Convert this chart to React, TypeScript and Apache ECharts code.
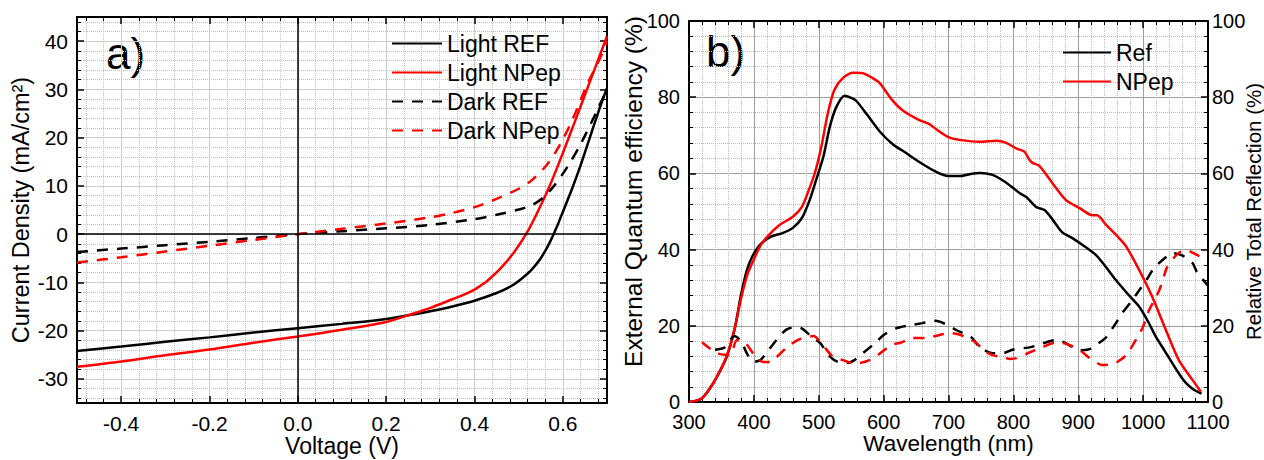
import React, { useEffect, useRef } from "react";
import * as echarts from "echarts";

// ---------- Panel a) J–V curves ----------
const lightRefV = [-0.5, -0.4, -0.3, -0.2, -0.1, 0, 0.1, 0.2, 0.3, 0.35, 0.4, 0.45, 0.47, 0.49, 0.51, 0.53, 0.55, 0.57, 0.585, 0.6, 0.62, 0.64, 0.66, 0.68, 0.7];
const lightRefJ = [-24.2, -23.3, -22.3, -21.4, -20.4, -19.5, -18.6, -17.6, -16.0, -15.0, -13.8, -12.2, -11.4, -10.4, -9.0, -7.3, -5.0, -1.8, 1.2, 4.6, 9.2, 14.2, 19.7, 25.2, 30.3];

const lightNPepV = [-0.5, -0.4, -0.3, -0.2, -0.1, 0, 0.1, 0.2, 0.26, 0.3, 0.35, 0.375, 0.4, 0.415, 0.43, 0.46, 0.49, 0.52, 0.545, 0.572, 0.6, 0.63, 0.66, 0.7];
const lightNPepJ = [-27.5, -26.4, -25.1, -23.9, -22.5, -21.2, -19.8, -18.2, -16.5, -15.3, -13.5, -12.6, -11.5, -10.6, -9.6, -7.0, -3.7, 0.5, 5.0, 10.4, 16.8, 24.0, 31.3, 41.0];

const darkRefV = [-0.5, -0.4, -0.3, -0.2, -0.1, 0, 0.1, 0.2, 0.3, 0.4, 0.45, 0.5, 0.53, 0.557, 0.58, 0.61, 0.64, 0.678, 0.7];
const darkRefJ = [-3.7, -3.0, -2.3, -1.6, -0.8, 0, 0.6, 1.2, 1.9, 3.1, 4.0, 5.1, 6.0, 7.7, 10.0, 13.9, 18.6, 25.7, 30.0];

const darkNPepV = [-0.5, -0.4, -0.3, -0.2, -0.1, 0, 0.1, 0.2, 0.3, 0.35, 0.4, 0.45, 0.5, 0.53, 0.565, 0.594, 0.624, 0.655, 0.685, 0.7];
const darkNPepJ = [-5.9, -4.8, -3.6, -2.4, -1.2, 0, 1.1, 2.2, 3.5, 4.4, 5.6, 7.3, 9.4, 11.2, 14.5, 18.6, 24.2, 31.0, 36.6, 40.0];

// ---------- Panel b) EQE and reflection ----------
const eqeRefNm = [300, 310, 320, 330, 343, 358, 371, 380, 389, 397, 409, 425, 445, 460, 474, 486, 496, 507, 517, 527, 540, 550, 558, 575, 594, 615, 629, 655, 681, 700, 717, 733, 748, 768, 785, 798, 810, 820, 835, 848, 860, 875, 891, 910, 927, 940, 958, 975, 994, 1008, 1020, 1033, 1045, 1055, 1066, 1076, 1090];
const eqeRefVal = [0, 0.3, 1, 3, 6.6, 11.8, 19.7, 28, 34.5, 38, 41.2, 43.3, 44.4, 45.7, 48.3, 53, 58.3, 64.3, 72.2, 77.4, 80.4, 79.8, 79, 75.3, 71, 67.5, 66, 63, 60.4, 59.3, 59.3, 59.8, 60.1, 59.6, 58, 56.4, 54.8, 53.8, 51.2, 50.4, 48, 44.6, 43, 40.8, 38.6, 36, 32, 28.6, 25, 21, 17, 13.5, 10.2, 7.5, 5, 3.5, 2.2];

const eqeNPepNm = [300, 310, 320, 330, 343, 358, 370, 380, 390, 401, 410, 420, 440, 460, 474, 483, 494, 504, 514, 524, 537, 552, 568, 583, 594, 612, 629, 655, 670, 681, 700, 717, 748, 774, 789, 805, 817, 825, 830, 840, 860, 881, 902, 922, 929, 943, 963, 974, 994, 1014, 1035, 1055, 1076, 1089];
const eqeNPepVal = [0, 0.3, 1, 3, 6.6, 12, 19, 27, 33.5, 37.8, 41, 43.3, 46.5, 48.6, 51.2, 54.9, 60.1, 67, 75.8, 81.9, 85, 86.4, 86.3, 85, 83.7, 79.5, 76.6, 74, 73, 71.6, 69.5, 68.8, 68.3, 68.6, 68, 66.5, 65.7, 63.5, 62.7, 62, 57.5, 53, 50.9, 49, 49, 46.5, 43, 40.8, 34.6, 27.6, 18.9, 11, 5.8, 2.7];

const reflRefNm = [340, 355, 370, 380, 390, 400, 410, 420, 435, 450, 465, 475, 490, 502, 517, 530, 545, 555, 568, 587, 600, 620, 635, 660, 680, 695, 712, 735, 748, 768, 783, 800, 827, 851, 866, 880, 891, 906, 920, 932, 943, 958, 968, 981, 991, 1005, 1017, 1035, 1045, 1060, 1076, 1083, 1100];
const reflRefVal = [13.7, 14.3, 17.3, 16, 12.5, 10.5, 11, 13, 16.3, 19, 19.7, 19.2, 17, 15.5, 12, 10.5, 10.3, 11, 12.8, 15.5, 17.6, 19.4, 20, 20.7, 21.3, 20.5, 18.9, 17, 14.4, 12.8, 12.8, 13.8, 14.4, 15.7, 16.3, 15.5, 14.4, 13.6, 14, 15.5, 17, 20.7, 23.4, 26.2, 28.6, 32, 35.2, 38, 39.1, 38.5, 36.5, 34.1, 30.5];

const reflNPepNm = [320, 343, 363, 374, 386, 400, 414, 425, 435, 450, 468, 481, 492, 506, 522, 537, 553, 565, 578, 591, 612, 625, 645, 666, 686, 701, 715, 727, 743, 755, 768, 783, 795, 805, 822, 845, 863, 875, 886, 902, 922, 937, 948, 960, 974, 986, 999, 1009, 1025, 1037, 1048, 1058, 1066, 1083, 1090];
const reflNPepVal = [15.7, 12.8, 12.3, 16.3, 15.7, 12.5, 10.5, 10.5, 11.8, 14.2, 16.3, 17, 17.3, 15, 11.8, 11, 10.2, 10.3, 11, 12.3, 15, 15.5, 16.8, 16.8, 17.6, 18.1, 17.8, 17, 15.5, 13.5, 12.3, 11.8, 11.3, 11.5, 12.8, 14.4, 15.5, 15.5, 15, 13.6, 11, 9.7, 9.8, 10.5, 12.3, 15.5, 19.4, 24, 29.4, 35.4, 38, 39.5, 39.9, 38.6, 38];

const zip = (xs: number[], ys: number[]) => xs.map((x, i) => [x, ys[i]]);

const FONT = '"Liberation Sans", Arial, Helvetica, sans-serif';
const BLACK = "#000000";
const RED = "#ff0000";
const DASH = [11, 9];

function axisBase(extra: any) {
  return {
    type: "value",
    nameMoveOverlap: false,
    axisLine: { show: true, onZero: false, lineStyle: { color: BLACK, width: 2 } },
    axisTick: { show: true, inside: true, length: 7, lineStyle: { color: BLACK, width: 1.5 } },
    minorTick: { show: true, splitNumber: 5, length: 4, lineStyle: { color: BLACK, width: 1 } },
    ...extra,
  };
}

function lineSeries(name: string, xi: number, yi: number, data: number[][], color: string, dashed: boolean, smooth: number) {
  return {
    name, type: "line", xAxisIndex: xi, yAxisIndex: yi, showSymbol: false, symbol: "none", smooth,
    data,
    lineStyle: { color, width: 2.5, type: dashed ? DASH : "solid" },
    itemStyle: { color },
  };
}

export default function App() {
  const ref = useRef<HTMLDivElement>(null);

  useEffect(() => {
    if (!ref.current) return;
    const chart = echarts.init(ref.current, undefined, { renderer: "svg" });

    const labA = { fontSize: 21, lineHeight: 21, color: BLACK, fontFamily: FONT };
    const labB = { fontSize: 20, lineHeight: 20, color: BLACK, fontFamily: FONT };
    const legendText = { fontSize: 23, lineHeight: 22, color: BLACK, fontFamily: FONT };

    const jvLightRef = lineSeries("Light REF", 0, 0, zip(lightRefV, lightRefJ), BLACK, false, 0.3);
    (jvLightRef as any).markLine = {
      silent: true, symbol: "none", label: { show: false },
      lineStyle: { color: BLACK, width: 1.5, type: "solid" },
      data: [{ xAxis: 0 }, { yAxis: 0 }],
    };

    const option: any = {
      animation: false,
      textStyle: { fontFamily: FONT },
      grid: [
        { left: 77, top: 17, width: 530, height: 386, outerBoundsMode: "none" },
        { left: 689, top: 21, width: 519, height: 381, outerBoundsMode: "none" },
      ],
      xAxis: [
        axisBase({
          gridIndex: 0, position: "bottom", min: -0.5, max: 0.7, minInterval: 0.2, maxInterval: 0.2, splitNumber: 6,
          name: "Voltage (V)", nameLocation: "middle", nameGap: 31,
          nameTextStyle: { fontSize: 23, lineHeight: 23, color: BLACK, fontFamily: FONT },
          axisLabel: { ...labA, margin: 10, showMinLabel: false, showMaxLabel: false, formatter: (v: number) => v.toFixed(1) },
          splitLine: { show: true, lineStyle: { color: "#cdcdcd", width: 1 } },
          minorSplitLine: { show: true, lineStyle: { color: "#c2c2c2", width: 1, type: "dotted" } },
        }),
        axisBase({
          gridIndex: 0, position: "top", min: -0.5, max: 0.7, minInterval: 0.2, maxInterval: 0.2, splitNumber: 6,
          axisLabel: { show: false }, splitLine: { show: false },
        }),
        axisBase({
          gridIndex: 1, position: "bottom", min: 300, max: 1100, interval: 100,
          name: "Wavelength (nm)", nameLocation: "middle", nameGap: 30,
          nameTextStyle: { fontSize: 22.5, lineHeight: 22.5, color: BLACK, fontFamily: FONT },
          axisLabel: { ...labB, margin: 10, formatter: (v: number) => String(v) },
          splitLine: { show: true, lineStyle: { color: "#9e9e9e", width: 1 } },
          minorSplitLine: { show: true, lineStyle: { color: "#bdbdbd", width: 1, type: "dotted" } },
        }),
        axisBase({
          gridIndex: 1, position: "top", min: 300, max: 1100, interval: 100,
          axisLabel: { show: false }, splitLine: { show: false },
        }),
      ],
      yAxis: [
        axisBase({
          gridIndex: 0, position: "left", min: -35, max: 45, minInterval: 10, maxInterval: 10, splitNumber: 8,
          name: "Current Density (mA/cm²)", nameLocation: "middle", nameRotate: 90, nameGap: 44,
          nameTextStyle: { fontSize: 23.5, color: BLACK, fontFamily: FONT },
          axisLabel: { ...labA, margin: 9, showMinLabel: false, showMaxLabel: false },
          splitLine: { show: true, lineStyle: { color: "#cdcdcd", width: 1 } },
          minorSplitLine: { show: true, lineStyle: { color: "#c2c2c2", width: 1, type: "dotted" } },
        }),
        axisBase({
          gridIndex: 0, position: "right", min: -35, max: 45, minInterval: 10, maxInterval: 10, splitNumber: 8,
          axisLabel: { show: false }, splitLine: { show: false },
        }),
        axisBase({
          gridIndex: 1, position: "left", min: 0, max: 100, interval: 20,
          name: "External Quantum efficiency (%)", nameLocation: "middle", nameRotate: 90, nameGap: 43,
          nameTextStyle: { fontSize: 24.5, lineHeight: 24.5, color: BLACK, fontFamily: FONT, padding: [0, 0, 0, 40] },
          axisLabel: { ...labB, margin: 9 },
          splitLine: { show: true, lineStyle: { color: "#9e9e9e", width: 1 } },
          minorSplitLine: { show: true, lineStyle: { color: "#bdbdbd", width: 1, type: "dotted" } },
        }),
        axisBase({
          gridIndex: 1, position: "right", min: 0, max: 100, interval: 20,
          name: "Relative Total Reflection (%)", nameLocation: "middle", nameRotate: 90, nameGap: 35,
          nameTextStyle: { fontSize: 20.5, lineHeight: 20.5, color: BLACK, fontFamily: FONT },
          axisLabel: { ...labB, margin: 4 },
          splitLine: { show: false },
        }),
      ],
      legend: [
        {
          data: ["Light REF", "Light NPep", "Dark REF", "Dark NPep"],
          orient: "vertical", left: 391, top: 32, padding: 0, itemWidth: 50, itemHeight: 14, itemGap: 6,
          textStyle: legendText, itemStyle: { opacity: 0 },
          selectedMode: false,
        },
        {
          data: ["Ref", "NPep"],
          orient: "vertical", left: 1062, top: 41, padding: 0, itemWidth: 48, itemHeight: 14, itemGap: 6,
          textStyle: legendText, itemStyle: { opacity: 0 },
          selectedMode: false,
        },
      ],
      graphic: [
        { type: "text", left: 106, top: 31, style: { text: "a)", fontSize: 44, fill: BLACK, fontFamily: FONT } },
        { type: "text", left: 706, top: 29, style: { text: "b)", fontSize: 44, fill: BLACK, fontFamily: FONT } },
      ],
      series: [
        jvLightRef,
        lineSeries("Light NPep", 0, 0, zip(lightNPepV, lightNPepJ), RED, false, 0.3),
        lineSeries("Dark REF", 0, 0, zip(darkRefV, darkRefJ), BLACK, true, 0.3),
        lineSeries("Dark NPep", 0, 0, zip(darkNPepV, darkNPepJ), RED, true, 0.3),
        lineSeries("Ref", 2, 2, zip(eqeRefNm, eqeRefVal), BLACK, false, 0.25),
        lineSeries("NPep", 2, 2, zip(eqeNPepNm, eqeNPepVal), RED, false, 0.25),
        lineSeries("Ref reflection", 2, 3, zip(reflRefNm, reflRefVal), BLACK, true, 0.25),
        lineSeries("NPep reflection", 2, 3, zip(reflNPepNm, reflNPepVal), RED, true, 0.25),
      ],
    };

    chart.setOption(option);
    return () => chart.dispose();
  }, []);

  return (
    <div
      ref={ref}
      style={{ position: "fixed", left: 0, top: 0, width: 1264, height: 460, background: "#ffffff" }}
    />
  );
}
